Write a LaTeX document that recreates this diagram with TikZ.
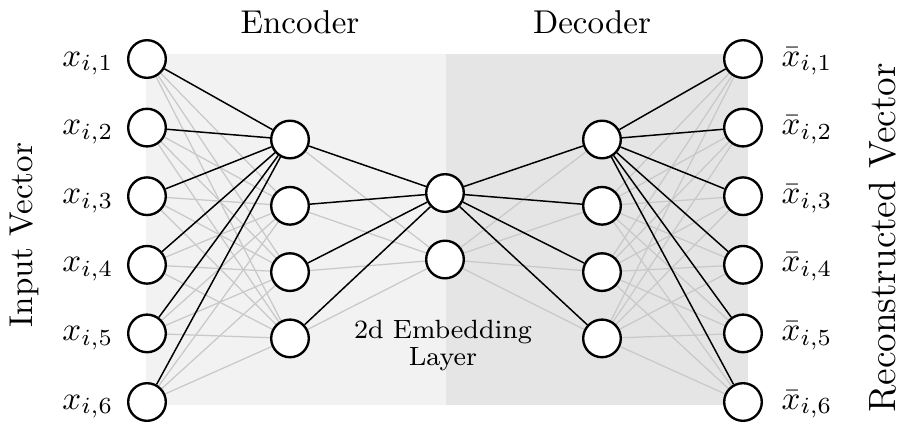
\documentclass[tikz,border=0pt]{standalone}
\pgfdeclarelayer{bg}
\pgfsetlayers{bg,main}
\begin{document}
\begin{tikzpicture}[x=0.303pt,y=-0.303pt,
  neuron/.style={circle,draw=black,line width=0.72pt,fill=white,minimum size=11.4pt,inner sep=0pt},
  faint/.style={draw=black!21,line width=0.38pt},
  strong/.style={draw=black,line width=0.45pt},
  title/.style={font=\fontsize{10}{12}\selectfont,inner sep=0pt},
  big/.style={font=\fontsize{11.5}{14}\selectfont,inner sep=0pt},
  small/.style={font=\fontsize{8}{9}\selectfont,inner sep=0pt}]
\useasboundingbox (0,0) rectangle (900,428);
% layers of neurons
\foreach \k/\y in {1/59,2/127.6,3/196.2,4/264.8,5/333.4,6/402} {
  \node[neuron] (x\k) at (147,\y) {};
  \node[neuron] (y\k) at (743,\y) {};
  \node[title,anchor=base east] (lx\k) at (114,\y+7) {$x_{i,\k}$};
  \node[title,anchor=base west] (ly\k) at (781,\y+7) {$\bar{x}_{i,\k}$};
}
\foreach \j/\y in {1/139.5,2/205.8,3/272.1,4/338.4} {
  \node[neuron] (h\j) at (290,\y) {};
  \node[neuron] (d\j) at (602,\y) {};
}
\node[neuron] (e1) at (445,193) {};
\node[neuron] (e2) at (445,259.5) {};
% texts
\node[title,anchor=base] (enc) at (300,33) {Encoder};
\node[title,anchor=base] (dec) at (592,33) {Decoder};
\node[title,rotate=90] (inp) at (24,235) {Input Vector};
\node[big,rotate=90] (rec) at (883,238) {Reconstructed Vector};
\node[small,anchor=base] (emb1) at (443,338) {2d Embedding};
\node[small,anchor=base] (emb2) at (443,365) {Layer};
\begin{pgfonlayer}{bg}
  \fill[black!5] (146,54) rectangle (446,405);
  \fill[black!10] (446,54) rectangle (748,405);
  \foreach \k in {1,...,6} {
    \foreach \j in {2,3,4} {
      \draw[faint] (x\k) -- (h\j);
      \draw[faint] (d\j) -- (y\k);
    }
  }
  \foreach \j in {1,...,4} {
    \draw[faint] (h\j) -- (e2);
    \draw[faint] (e2) -- (d\j);
  }
  \foreach \k in {1,...,6} {
    \draw[strong] (x\k) -- (h1);
    \draw[strong] (d1) -- (y\k);
  }
  \foreach \j in {1,...,4} {
    \draw[strong] (h\j) -- (e1);
    \draw[strong] (e1) -- (d\j);
  }
\end{pgfonlayer}
\end{tikzpicture}
\end{document}
